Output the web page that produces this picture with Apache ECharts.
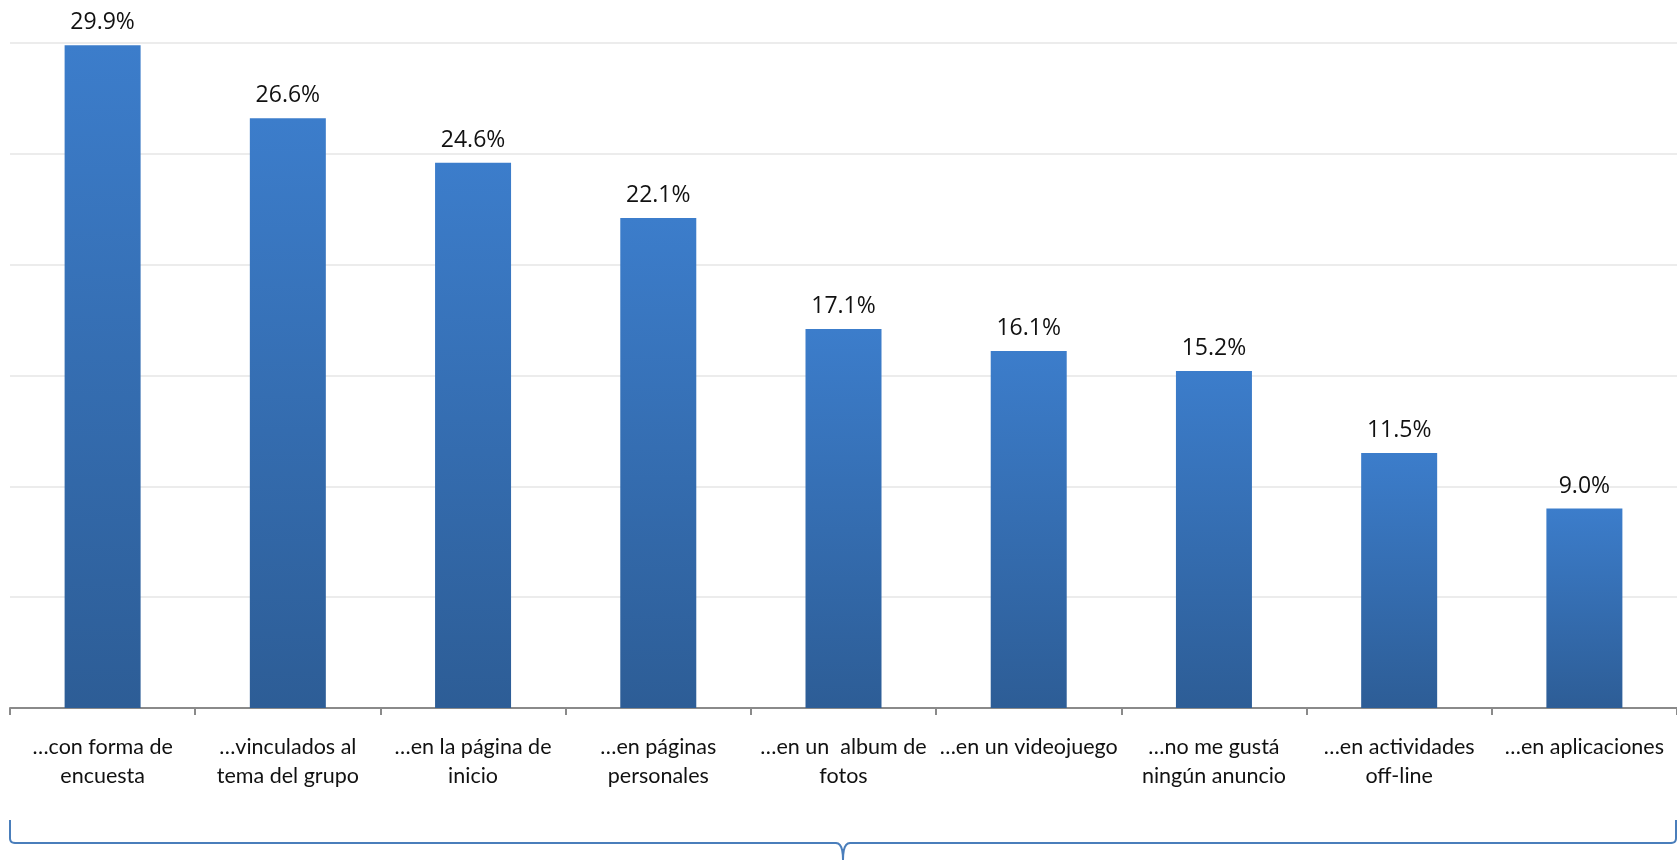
<!DOCTYPE html>
<html>
<head>
<meta charset="utf-8">
<script src="https://cdn.jsdelivr.net/npm/echarts@6/dist/echarts.min.js"></script>
<style>
html,body{margin:0;padding:0;background:#fff;}
#chart{width:1677px;height:860px;}
</style>
</head>
<body>
<div id="chart"></div>
<script>
const categories = [
  "…con forma de\nencuesta",
  "…vinculados al\ntema del grupo",
  "…en la página de\ninicio",
  "…en páginas\npersonales",
  "…en un  album de\nfotos",
  "…en un videojuego",
  "…no me gustá\nningún anuncio",
  "…en actividades\noff-line",
  "…en aplicaciones"
];
const values = [29.9, 26.6, 24.6, 22.1, 17.1, 16.1, 15.2, 11.5, 9.0];
const yMin = 0, yMax = 30, yStep = 5;

const chart = echarts.init(document.getElementById('chart'));

function quadPts(p0, p1, p2, n) {
  const pts = [];
  for (let i = 0; i <= n; i++) {
    const t = i / n;
    const x = (1-t)*(1-t)*p0[0] + 2*(1-t)*t*p1[0] + t*t*p2[0];
    const y = (1-t)*(1-t)*p0[1] + 2*(1-t)*t*p1[1] + t*t*p2[1];
    pts.push([x, y]);
  }
  return pts;
}
function bracePoints(x0, x1, yTop, yLine, yTip) {
  const xm = (x0 + x1) / 2;
  const r = 5;
  let pts = [[x0, yTop]];
  pts = pts.concat(quadPts([x0, yLine - r], [x0, yLine], [x0 + r, yLine], 6));
  pts = pts.concat(quadPts([xm - 7, yLine], [xm, yLine], [xm, yTip], 6));
  pts = pts.concat(quadPts([xm, yTip], [xm, yLine], [xm + 7, yLine], 6));
  pts = pts.concat(quadPts([x1 - r, yLine], [x1, yLine], [x1, yLine - r], 6));
  pts.push([x1, yTop]);
  return pts;
}

chart.setOption({
  animation: false,
  grid: { left: 10, width: 1672, top: 43, bottom: 152, containLabel: false },
  xAxis: {
    type: 'category',
    data: categories,
    axisLine: { lineStyle: { color: '#8a8a8a', width: 2 } },
    axisTick: { show: true, length: 7, lineStyle: { color: '#8a8a8a', width: 2 } },
    axisLabel: {
      interval: 0,
      margin: 25,
      color: '#111',
      fontFamily: 'Lato',
      fontSize: 21.5,
      lineHeight: 29
    }
  },
  yAxis: {
    type: 'value',
    min: yMin, max: yMax, interval: yStep,
    axisLabel: { show: false },
    axisLine: { show: false },
    axisTick: { show: false },
    splitLine: { lineStyle: { color: '#ececec', width: 2 } }
  },
  series: [{
    type: 'bar',
    data: values,
    barWidth: 76,
    itemStyle: {
      color: new echarts.graphic.LinearGradient(0, 0, 0, 1, [
        { offset: 0, color: '#3C7DCB' },
        { offset: 1, color: '#2D5D96' }
      ])
    },
    label: {
      show: true,
      position: 'top',
      distance: 11,
      color: '#111',
      fontFamily: 'Open Sans',
      fontSize: 23,
      formatter: p => p.value.toFixed(1) + '%'
    }
  }],
  graphic: [{
    type: 'polyline',
    shape: { points: bracePoints(10, 1676, 820, 843, 860) },
    style: { stroke: '#4A7EBB', lineWidth: 2, fill: null }
  }]
});
</script>
</body>
</html>
